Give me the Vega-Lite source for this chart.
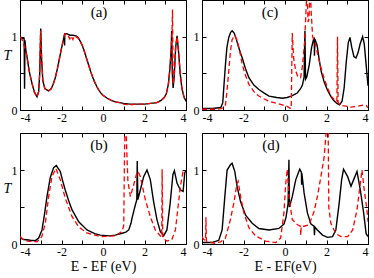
{
"$schema":"https://vega.github.io/schema/vega-lite/v6.json",
"padding":{"left":2,"top":-1,"right":0,"bottom":2},
"config":{"view":{"stroke":"black","strokeWidth":1},"font":"Liberation Serif",
 "axis":{"domain":false,"grid":false,"tickColor":"black","labelColor":"black","labelFont":"Liberation Serif","labelFontSize":12,"titleFont":"Liberation Serif","titleColor":"black","titleFontWeight":"normal"},
 "title":{"font":"Liberation Serif","fontSize":15,"fontWeight":"normal","color":"black"}},
"datasets":{"d":[
{"p":"a","s":"k","x":-4,"y":1.0},{"p":"a","s":"k","x":-3.9,"y":0.98},{"p":"a","s":"k","x":-3.8,"y":0.97},{"p":"a","s":"k","x":-3.78,"y":0.29},{"p":"a","s":"k","x":-3.76,"y":0.95},{"p":"a","s":"k","x":-3.72,"y":0.82},{"p":"a","s":"k","x":-3.66,"y":0.72},{"p":"a","s":"k","x":-3.55,"y":0.52},{"p":"a","s":"k","x":-3.42,"y":0.36},{"p":"a","s":"k","x":-3.3,"y":0.24},{"p":"a","s":"k","x":-3.18,"y":0.18},{"p":"a","s":"k","x":-3.1,"y":0.25},{"p":"a","s":"k","x":-3.05,"y":0.5},{"p":"a","s":"k","x":-3.0,"y":1.11},{"p":"a","s":"k","x":-2.96,"y":0.7},{"p":"a","s":"k","x":-2.9,"y":0.4},{"p":"a","s":"k","x":-2.8,"y":0.29},{"p":"a","s":"k","x":-2.62,"y":0.26},{"p":"a","s":"k","x":-2.5,"y":0.29},{"p":"a","s":"k","x":-2.4,"y":0.35},{"p":"a","s":"k","x":-2.3,"y":0.44},{"p":"a","s":"k","x":-2.2,"y":0.56},{"p":"a","s":"k","x":-2.1,"y":0.7},{"p":"a","s":"k","x":-2.0,"y":0.84},{"p":"a","s":"k","x":-1.9,"y":0.97},{"p":"a","s":"k","x":-1.86,"y":1.03},{"p":"a","s":"k","x":-1.85,"y":0.88},{"p":"a","s":"k","x":-1.84,"y":1.04},{"p":"a","s":"k","x":-1.75,"y":1.04},{"p":"a","s":"k","x":-1.6,"y":1.02},{"p":"a","s":"k","x":-1.45,"y":1.02},{"p":"a","s":"k","x":-1.3,"y":1.01},{"p":"a","s":"k","x":-1.2,"y":0.99},{"p":"a","s":"k","x":-1.1,"y":0.94},{"p":"a","s":"k","x":-1.0,"y":0.88},{"p":"a","s":"k","x":-0.9,"y":0.8},{"p":"a","s":"k","x":-0.8,"y":0.71},{"p":"a","s":"k","x":-0.7,"y":0.62},{"p":"a","s":"k","x":-0.6,"y":0.53},{"p":"a","s":"k","x":-0.5,"y":0.45},{"p":"a","s":"k","x":-0.4,"y":0.38},{"p":"a","s":"k","x":-0.3,"y":0.32},{"p":"a","s":"k","x":-0.2,"y":0.27},{"p":"a","s":"k","x":-0.1,"y":0.23},{"p":"a","s":"k","x":0.0,"y":0.2},{"p":"a","s":"k","x":0.2,"y":0.16},{"p":"a","s":"k","x":0.4,"y":0.13},{"p":"a","s":"k","x":0.6,"y":0.11},{"p":"a","s":"k","x":0.8,"y":0.1},{"p":"a","s":"k","x":1.0,"y":0.09},{"p":"a","s":"k","x":1.3,"y":0.08},{"p":"a","s":"k","x":1.6,"y":0.08},{"p":"a","s":"k","x":2.0,"y":0.08},{"p":"a","s":"k","x":2.3,"y":0.09},{"p":"a","s":"k","x":2.6,"y":0.1},{"p":"a","s":"k","x":2.8,"y":0.13},{"p":"a","s":"k","x":2.95,"y":0.17},{"p":"a","s":"k","x":3.05,"y":0.22},{"p":"a","s":"k","x":3.15,"y":0.35},{"p":"a","s":"k","x":3.22,"y":0.55},{"p":"a","s":"k","x":3.28,"y":0.8},{"p":"a","s":"k","x":3.31,"y":1.08},{"p":"a","s":"k","x":3.34,"y":0.5},{"p":"a","s":"k","x":3.38,"y":0.3},{"p":"a","s":"k","x":3.43,"y":0.45},{"p":"a","s":"k","x":3.5,"y":0.85},{"p":"a","s":"k","x":3.57,"y":1.01},{"p":"a","s":"k","x":3.64,"y":0.8},{"p":"a","s":"k","x":3.72,"y":0.5},{"p":"a","s":"k","x":3.8,"y":0.3},{"p":"a","s":"k","x":3.9,"y":0.18},{"p":"a","s":"k","x":4.0,"y":0.12},
{"p":"a","s":"r","x":-4,"y":1.0},{"p":"a","s":"r","x":-3.9,"y":0.96},{"p":"a","s":"r","x":-3.8,"y":0.88},{"p":"a","s":"r","x":-3.66,"y":0.72},{"p":"a","s":"r","x":-3.55,"y":0.52},{"p":"a","s":"r","x":-3.42,"y":0.36},{"p":"a","s":"r","x":-3.3,"y":0.24},{"p":"a","s":"r","x":-3.18,"y":0.18},{"p":"a","s":"r","x":-3.1,"y":0.25},{"p":"a","s":"r","x":-3.05,"y":0.5},{"p":"a","s":"r","x":-3.01,"y":1.08},{"p":"a","s":"r","x":-2.96,"y":0.72},{"p":"a","s":"r","x":-2.9,"y":0.4},{"p":"a","s":"r","x":-2.8,"y":0.29},{"p":"a","s":"r","x":-2.62,"y":0.26},{"p":"a","s":"r","x":-2.5,"y":0.29},{"p":"a","s":"r","x":-2.4,"y":0.35},{"p":"a","s":"r","x":-2.3,"y":0.44},{"p":"a","s":"r","x":-2.2,"y":0.56},{"p":"a","s":"r","x":-2.1,"y":0.7},{"p":"a","s":"r","x":-2.0,"y":0.84},{"p":"a","s":"r","x":-1.9,"y":0.97},{"p":"a","s":"r","x":-1.83,"y":1.04},{"p":"a","s":"r","x":-1.7,"y":1.02},{"p":"a","s":"r","x":-1.6,"y":0.97},{"p":"a","s":"r","x":-1.55,"y":1.01},{"p":"a","s":"r","x":-1.45,"y":0.96},{"p":"a","s":"r","x":-1.4,"y":1.01},{"p":"a","s":"r","x":-1.3,"y":1.0},{"p":"a","s":"r","x":-1.2,"y":0.98},{"p":"a","s":"r","x":-1.1,"y":0.94},{"p":"a","s":"r","x":-1.0,"y":0.88},{"p":"a","s":"r","x":-0.9,"y":0.8},{"p":"a","s":"r","x":-0.8,"y":0.71},{"p":"a","s":"r","x":-0.7,"y":0.62},{"p":"a","s":"r","x":-0.6,"y":0.53},{"p":"a","s":"r","x":-0.5,"y":0.45},{"p":"a","s":"r","x":-0.4,"y":0.38},{"p":"a","s":"r","x":-0.3,"y":0.32},{"p":"a","s":"r","x":-0.2,"y":0.27},{"p":"a","s":"r","x":-0.1,"y":0.23},{"p":"a","s":"r","x":0.0,"y":0.2},{"p":"a","s":"r","x":0.2,"y":0.16},{"p":"a","s":"r","x":0.4,"y":0.13},{"p":"a","s":"r","x":0.6,"y":0.11},{"p":"a","s":"r","x":0.8,"y":0.1},{"p":"a","s":"r","x":1.0,"y":0.08},{"p":"a","s":"r","x":1.3,"y":0.07},{"p":"a","s":"r","x":1.6,"y":0.08},{"p":"a","s":"r","x":2.0,"y":0.08},{"p":"a","s":"r","x":2.3,"y":0.09},{"p":"a","s":"r","x":2.6,"y":0.1},{"p":"a","s":"r","x":2.8,"y":0.13},{"p":"a","s":"r","x":2.95,"y":0.17},{"p":"a","s":"r","x":3.05,"y":0.22},{"p":"a","s":"r","x":3.15,"y":0.35},{"p":"a","s":"r","x":3.22,"y":0.55},{"p":"a","s":"r","x":3.28,"y":0.8},{"p":"a","s":"r","x":3.32,"y":1.0},{"p":"a","s":"r","x":3.35,"y":1.37},{"p":"a","s":"r","x":3.38,"y":0.35},{"p":"a","s":"r","x":3.43,"y":0.45},{"p":"a","s":"r","x":3.5,"y":0.85},{"p":"a","s":"r","x":3.57,"y":1.0},{"p":"a","s":"r","x":3.64,"y":0.8},{"p":"a","s":"r","x":3.72,"y":0.5},{"p":"a","s":"r","x":3.8,"y":0.3},{"p":"a","s":"r","x":3.9,"y":0.18},{"p":"a","s":"r","x":4.0,"y":0.12},
{"p":"c","s":"k","x":-4,"y":0.02},{"p":"c","s":"k","x":-3.5,"y":0.02},{"p":"c","s":"k","x":-3.2,"y":0.03},{"p":"c","s":"k","x":-3.08,"y":0.04},{"p":"c","s":"k","x":-3.0,"y":0.1},{"p":"c","s":"k","x":-2.95,"y":0.3},{"p":"c","s":"k","x":-2.87,"y":0.62},{"p":"c","s":"k","x":-2.8,"y":0.85},{"p":"c","s":"k","x":-2.71,"y":0.99},{"p":"c","s":"k","x":-2.62,"y":1.06},{"p":"c","s":"k","x":-2.55,"y":1.08},{"p":"c","s":"k","x":-2.45,"y":1.05},{"p":"c","s":"k","x":-2.35,"y":0.97},{"p":"c","s":"k","x":-2.25,"y":0.87},{"p":"c","s":"k","x":-2.15,"y":0.78},{"p":"c","s":"k","x":-2.06,"y":0.71},{"p":"c","s":"k","x":-1.9,"y":0.56},{"p":"c","s":"k","x":-1.74,"y":0.44},{"p":"c","s":"k","x":-1.5,"y":0.34},{"p":"c","s":"k","x":-1.26,"y":0.28},{"p":"c","s":"k","x":-1.0,"y":0.23},{"p":"c","s":"k","x":-0.77,"y":0.19},{"p":"c","s":"k","x":-0.4,"y":0.17},{"p":"c","s":"k","x":-0.13,"y":0.16},{"p":"c","s":"k","x":0.1,"y":0.17},{"p":"c","s":"k","x":0.3,"y":0.19},{"p":"c","s":"k","x":0.58,"y":0.23},{"p":"c","s":"k","x":0.75,"y":0.29},{"p":"c","s":"k","x":0.84,"y":0.34},{"p":"c","s":"k","x":0.92,"y":0.45},{"p":"c","s":"k","x":0.96,"y":1.08},{"p":"c","s":"k","x":0.99,"y":0.42},{"p":"c","s":"k","x":1.05,"y":0.45},{"p":"c","s":"k","x":1.17,"y":0.62},{"p":"c","s":"k","x":1.28,"y":0.85},{"p":"c","s":"k","x":1.38,"y":0.97},{"p":"c","s":"k","x":1.41,"y":0.99},{"p":"c","s":"k","x":1.42,"y":0.74},{"p":"c","s":"k","x":1.44,"y":0.97},{"p":"c","s":"k","x":1.55,"y":0.88},{"p":"c","s":"k","x":1.65,"y":0.68},{"p":"c","s":"k","x":1.75,"y":0.52},{"p":"c","s":"k","x":1.9,"y":0.37},{"p":"c","s":"k","x":2.05,"y":0.27},{"p":"c","s":"k","x":2.2,"y":0.19},{"p":"c","s":"k","x":2.35,"y":0.13},{"p":"c","s":"k","x":2.5,"y":0.09},{"p":"c","s":"k","x":2.63,"y":0.07},{"p":"c","s":"k","x":2.75,"y":0.12},{"p":"c","s":"k","x":2.85,"y":0.3},{"p":"c","s":"k","x":2.95,"y":0.65},{"p":"c","s":"k","x":3.05,"y":0.92},{"p":"c","s":"k","x":3.13,"y":0.99},{"p":"c","s":"k","x":3.22,"y":0.85},{"p":"c","s":"k","x":3.32,"y":0.73},{"p":"c","s":"k","x":3.42,"y":0.71},{"p":"c","s":"k","x":3.52,"y":0.78},{"p":"c","s":"k","x":3.62,"y":0.9},{"p":"c","s":"k","x":3.74,"y":1.0},{"p":"c","s":"k","x":3.82,"y":0.9},{"p":"c","s":"k","x":3.9,"y":0.65},{"p":"c","s":"k","x":4.0,"y":0.33},
{"p":"c","s":"r","x":-4,"y":0.01},{"p":"c","s":"r","x":-3.3,"y":0.01},{"p":"c","s":"r","x":-3.1,"y":0.02},{"p":"c","s":"r","x":-3.0,"y":0.03},{"p":"c","s":"r","x":-2.87,"y":0.07},{"p":"c","s":"r","x":-2.8,"y":0.25},{"p":"c","s":"r","x":-2.71,"y":0.53},{"p":"c","s":"r","x":-2.63,"y":0.8},{"p":"c","s":"r","x":-2.55,"y":0.96},{"p":"c","s":"r","x":-2.42,"y":1.02},{"p":"c","s":"r","x":-2.32,"y":0.96},{"p":"c","s":"r","x":-2.2,"y":0.83},{"p":"c","s":"r","x":-2.06,"y":0.62},{"p":"c","s":"r","x":-1.9,"y":0.47},{"p":"c","s":"r","x":-1.74,"y":0.35},{"p":"c","s":"r","x":-1.5,"y":0.25},{"p":"c","s":"r","x":-1.26,"y":0.19},{"p":"c","s":"r","x":-1.0,"y":0.15},{"p":"c","s":"r","x":-0.77,"y":0.12},{"p":"c","s":"r","x":-0.4,"y":0.09},{"p":"c","s":"r","x":-0.13,"y":0.07},{"p":"c","s":"r","x":0.1,"y":0.05},{"p":"c","s":"r","x":0.22,"y":0.03},{"p":"c","s":"r","x":0.3,"y":0.02},{"p":"c","s":"r","x":0.35,"y":1.05},{"p":"c","s":"r","x":0.42,"y":0.7},{"p":"c","s":"r","x":0.52,"y":0.53},{"p":"c","s":"r","x":0.62,"y":0.45},{"p":"c","s":"r","x":0.75,"y":0.44},{"p":"c","s":"r","x":0.84,"y":0.6},{"p":"c","s":"r","x":0.95,"y":0.95},{"p":"c","s":"r","x":1.02,"y":1.4},{"p":"c","s":"r","x":1.06,"y":1.7},{"p":"c","s":"r","x":1.11,"y":1.2},{"p":"c","s":"r","x":1.16,"y":1.25},{"p":"c","s":"r","x":1.21,"y":1.7},{"p":"c","s":"r","x":1.27,"y":1.3},{"p":"c","s":"r","x":1.33,"y":1.0},{"p":"c","s":"r","x":1.45,"y":0.92},{"p":"c","s":"r","x":1.6,"y":0.73},{"p":"c","s":"r","x":1.73,"y":0.58},{"p":"c","s":"r","x":1.9,"y":0.42},{"p":"c","s":"r","x":2.05,"y":0.3},{"p":"c","s":"r","x":2.2,"y":0.2},{"p":"c","s":"r","x":2.37,"y":0.14},{"p":"c","s":"r","x":2.5,"y":0.12},{"p":"c","s":"r","x":2.53,"y":1.0},{"p":"c","s":"r","x":2.56,"y":0.1},{"p":"c","s":"r","x":2.65,"y":0.07},{"p":"c","s":"r","x":2.77,"y":0.06},{"p":"c","s":"r","x":3.0,"y":0.05},{"p":"c","s":"r","x":3.17,"y":0.04},{"p":"c","s":"r","x":3.5,"y":0.05},{"p":"c","s":"r","x":3.82,"y":0.07},{"p":"c","s":"r","x":3.92,"y":0.06},{"p":"c","s":"r","x":4.0,"y":0.03},
{"p":"b","s":"k","x":-4,"y":0.08},{"p":"b","s":"k","x":-3.8,"y":0.06},{"p":"b","s":"k","x":-3.5,"y":0.05},{"p":"b","s":"k","x":-3.26,"y":0.045},{"p":"b","s":"k","x":-3.1,"y":0.08},{"p":"b","s":"k","x":-2.94,"y":0.19},{"p":"b","s":"k","x":-2.82,"y":0.4},{"p":"b","s":"k","x":-2.7,"y":0.64},{"p":"b","s":"k","x":-2.54,"y":0.9},{"p":"b","s":"k","x":-2.38,"y":1.03},{"p":"b","s":"k","x":-2.25,"y":1.06},{"p":"b","s":"k","x":-2.06,"y":0.98},{"p":"b","s":"k","x":-1.95,"y":0.86},{"p":"b","s":"k","x":-1.82,"y":0.73},{"p":"b","s":"k","x":-1.65,"y":0.58},{"p":"b","s":"k","x":-1.49,"y":0.46},{"p":"b","s":"k","x":-1.17,"y":0.3},{"p":"b","s":"k","x":-0.77,"y":0.19},{"p":"b","s":"k","x":-0.4,"y":0.14},{"p":"b","s":"k","x":-0.13,"y":0.12},{"p":"b","s":"k","x":0.3,"y":0.11},{"p":"b","s":"k","x":0.59,"y":0.12},{"p":"b","s":"k","x":0.92,"y":0.145},{"p":"b","s":"k","x":1.1,"y":0.16},{"p":"b","s":"k","x":1.24,"y":0.19},{"p":"b","s":"k","x":1.35,"y":0.28},{"p":"b","s":"k","x":1.4,"y":0.35},{"p":"b","s":"k","x":1.48,"y":0.44},{"p":"b","s":"k","x":1.56,"y":0.53},{"p":"b","s":"k","x":1.63,"y":0.6},{"p":"b","s":"k","x":1.65,"y":1.12},{"p":"b","s":"k","x":1.68,"y":0.6},{"p":"b","s":"k","x":1.8,"y":0.73},{"p":"b","s":"k","x":1.96,"y":0.91},{"p":"b","s":"k","x":2.12,"y":1.0},{"p":"b","s":"k","x":2.28,"y":0.87},{"p":"b","s":"k","x":2.44,"y":0.57},{"p":"b","s":"k","x":2.6,"y":0.33},{"p":"b","s":"k","x":2.76,"y":0.17},{"p":"b","s":"k","x":2.92,"y":0.11},{"p":"b","s":"k","x":3.08,"y":0.19},{"p":"b","s":"k","x":3.24,"y":0.56},{"p":"b","s":"k","x":3.37,"y":0.94},{"p":"b","s":"k","x":3.44,"y":0.99},{"p":"b","s":"k","x":3.57,"y":0.82},{"p":"b","s":"k","x":3.73,"y":0.73},{"p":"b","s":"k","x":3.86,"y":0.71},{"p":"b","s":"k","x":3.94,"y":0.96},{"p":"b","s":"k","x":4.0,"y":1.0},
{"p":"b","s":"r","x":-4,"y":0.1},{"p":"b","s":"r","x":-3.8,"y":0.05},{"p":"b","s":"r","x":-3.66,"y":0.04},{"p":"b","s":"r","x":-3.18,"y":0.03},{"p":"b","s":"r","x":-2.95,"y":0.1},{"p":"b","s":"r","x":-2.78,"y":0.28},{"p":"b","s":"r","x":-2.62,"y":0.64},{"p":"b","s":"r","x":-2.46,"y":0.91},{"p":"b","s":"r","x":-2.27,"y":1.02},{"p":"b","s":"r","x":-2.06,"y":0.87},{"p":"b","s":"r","x":-1.82,"y":0.62},{"p":"b","s":"r","x":-1.49,"y":0.37},{"p":"b","s":"r","x":-1.17,"y":0.23},{"p":"b","s":"r","x":-0.77,"y":0.15},{"p":"b","s":"r","x":-0.13,"y":0.1},{"p":"b","s":"r","x":0.59,"y":0.11},{"p":"b","s":"r","x":0.92,"y":0.17},{"p":"b","s":"r","x":1.0,"y":0.25},{"p":"b","s":"r","x":1.04,"y":1.3},{"p":"b","s":"r","x":1.09,"y":1.8},{"p":"b","s":"r","x":1.14,"y":1.3},{"p":"b","s":"r","x":1.2,"y":0.85},{"p":"b","s":"r","x":1.32,"y":0.64},{"p":"b","s":"r","x":1.48,"y":0.8},{"p":"b","s":"r","x":1.62,"y":0.95},{"p":"b","s":"r","x":1.69,"y":0.98},{"p":"b","s":"r","x":1.8,"y":0.91},{"p":"b","s":"r","x":2.04,"y":0.6},{"p":"b","s":"r","x":2.28,"y":0.37},{"p":"b","s":"r","x":2.52,"y":0.19},{"p":"b","s":"r","x":2.76,"y":0.11},{"p":"b","s":"r","x":2.83,"y":0.1},{"p":"b","s":"r","x":2.85,"y":1.01},{"p":"b","s":"r","x":2.88,"y":0.08},{"p":"b","s":"r","x":3.08,"y":0.04},{"p":"b","s":"r","x":3.32,"y":0.06},{"p":"b","s":"r","x":3.49,"y":0.19},{"p":"b","s":"r","x":3.62,"y":0.51},{"p":"b","s":"r","x":3.73,"y":0.78},{"p":"b","s":"r","x":3.86,"y":0.98},{"p":"b","s":"r","x":4.0,"y":0.97},
{"p":"d","s":"k","x":-4,"y":0.02},{"p":"d","s":"k","x":-3.5,"y":0.02},{"p":"d","s":"k","x":-3.19,"y":0.05},{"p":"d","s":"k","x":-3.03,"y":0.19},{"p":"d","s":"k","x":-2.9,"y":0.64},{"p":"d","s":"k","x":-2.79,"y":1.0},{"p":"d","s":"k","x":-2.63,"y":1.07},{"p":"d","s":"k","x":-2.55,"y":1.09},{"p":"d","s":"k","x":-2.42,"y":0.98},{"p":"d","s":"k","x":-2.31,"y":0.78},{"p":"d","s":"k","x":-2.14,"y":0.57},{"p":"d","s":"k","x":-1.9,"y":0.39},{"p":"d","s":"k","x":-1.58,"y":0.28},{"p":"d","s":"k","x":-1.26,"y":0.21},{"p":"d","s":"k","x":-0.77,"y":0.19},{"p":"d","s":"k","x":-0.29,"y":0.21},{"p":"d","s":"k","x":-0.05,"y":0.27},{"p":"d","s":"k","x":0.05,"y":0.36},{"p":"d","s":"k","x":0.15,"y":0.55},{"p":"d","s":"k","x":0.19,"y":1.14},{"p":"d","s":"k","x":0.21,"y":0.5},{"p":"d","s":"k","x":0.35,"y":0.64},{"p":"d","s":"k","x":0.52,"y":0.87},{"p":"d","s":"k","x":0.71,"y":1.01},{"p":"d","s":"k","x":0.79,"y":0.97},{"p":"d","s":"k","x":0.8,"y":0.8},{"p":"d","s":"k","x":0.81,"y":0.96},{"p":"d","s":"k","x":0.92,"y":0.69},{"p":"d","s":"k","x":1.08,"y":0.42},{"p":"d","s":"k","x":1.25,"y":0.27},{"p":"d","s":"k","x":1.4,"y":0.24},{"p":"d","s":"k","x":1.42,"y":0.12},{"p":"d","s":"k","x":1.44,"y":0.23},{"p":"d","s":"k","x":1.56,"y":0.19},{"p":"d","s":"k","x":1.81,"y":0.12},{"p":"d","s":"k","x":2.05,"y":0.09},{"p":"d","s":"k","x":2.29,"y":0.1},{"p":"d","s":"k","x":2.45,"y":0.19},{"p":"d","s":"k","x":2.61,"y":0.55},{"p":"d","s":"k","x":2.73,"y":0.87},{"p":"d","s":"k","x":2.82,"y":1.01},{"p":"d","s":"k","x":3.02,"y":0.91},{"p":"d","s":"k","x":3.18,"y":0.78},{"p":"d","s":"k","x":3.31,"y":0.87},{"p":"d","s":"k","x":3.47,"y":0.98},{"p":"d","s":"k","x":3.63,"y":0.73},{"p":"d","s":"k","x":3.79,"y":0.42},{"p":"d","s":"k","x":3.91,"y":0.14},{"p":"d","s":"k","x":4.0,"y":0.1},
{"p":"d","s":"r","x":-4,"y":0.1},{"p":"d","s":"r","x":-3.92,"y":0.06},{"p":"d","s":"r","x":-3.83,"y":0.05},{"p":"d","s":"r","x":-3.81,"y":0.36},{"p":"d","s":"r","x":-3.79,"y":0.04},{"p":"d","s":"r","x":-3.4,"y":0.01},{"p":"d","s":"r","x":-3.1,"y":0.03},{"p":"d","s":"r","x":-2.87,"y":0.08},{"p":"d","s":"r","x":-2.63,"y":0.33},{"p":"d","s":"r","x":-2.47,"y":0.55},{"p":"d","s":"r","x":-2.31,"y":0.82},{"p":"d","s":"r","x":-2.26,"y":0.85},{"p":"d","s":"r","x":-2.14,"y":0.64},{"p":"d","s":"r","x":-1.98,"y":0.42},{"p":"d","s":"r","x":-1.74,"y":0.22},{"p":"d","s":"r","x":-1.42,"y":0.11},{"p":"d","s":"r","x":-0.94,"y":0.04},{"p":"d","s":"r","x":-0.45,"y":0.02},{"p":"d","s":"r","x":-0.21,"y":0.08},{"p":"d","s":"r","x":-0.05,"y":0.42},{"p":"d","s":"r","x":0.03,"y":0.8},{"p":"d","s":"r","x":0.11,"y":1.01},{"p":"d","s":"r","x":0.19,"y":0.64},{"p":"d","s":"r","x":0.35,"y":0.33},{"p":"d","s":"r","x":0.6,"y":0.26},{"p":"d","s":"r","x":0.74,"y":0.24},{"p":"d","s":"r","x":0.76,"y":0.12},{"p":"d","s":"r","x":0.78,"y":0.24},{"p":"d","s":"r","x":0.92,"y":0.24},{"p":"d","s":"r","x":1.16,"y":0.26},{"p":"d","s":"r","x":1.4,"y":0.44},{"p":"d","s":"r","x":1.56,"y":0.64},{"p":"d","s":"r","x":1.73,"y":0.91},{"p":"d","s":"r","x":1.89,"y":1.18},{"p":"d","s":"r","x":1.98,"y":1.5},{"p":"d","s":"r","x":2.03,"y":1.8},{"p":"d","s":"r","x":2.08,"y":1.6},{"p":"d","s":"r","x":2.11,"y":0.5},{"p":"d","s":"r","x":2.21,"y":0.28},{"p":"d","s":"r","x":2.45,"y":0.14},{"p":"d","s":"r","x":2.7,"y":0.1},{"p":"d","s":"r","x":3.02,"y":0.1},{"p":"d","s":"r","x":3.26,"y":0.19},{"p":"d","s":"r","x":3.47,"y":0.46},{"p":"d","s":"r","x":3.63,"y":0.82},{"p":"d","s":"r","x":3.71,"y":1.0},{"p":"d","s":"r","x":3.82,"y":0.73},{"p":"d","s":"r","x":3.95,"y":0.46},{"p":"d","s":"r","x":4.0,"y":0.3}
]},
"data":{"name":"d"},
"columns":2,"spacing":{"row":23,"column":16},"bounds":"flush",
"concat":[
{"width":166,"height":110,"title":{"text":"(a)","offset":-20,"dx":-4},
 "transform":[{"filter":"datum.p === 'a'"}],
 "layer":[
  {"transform":[{"filter":"datum.s === 'k'"}],"mark":{"type":"line","color":"black","strokeWidth":1.4,"clip":true},
   "encoding":{"x":{"field":"x","type":"quantitative","scale":{"domain":[-4,4],"nice":false},"axis":{"orient":"top","values":[-4,-3,-2,-1,0,1,2,3,4],"labels":false,"title":null,"tickSize":-4}},
    "y":{"field":"y","type":"quantitative","scale":{"domain":[0,1.5],"nice":false},"axis":{"orient":"right","values":[0,0.5,1,1.5],"labels":false,"title":null,"tickSize":-4}}}},
  {"transform":[{"filter":"datum.s === 'r'"}],"mark":{"type":"line","color":"#ff0000","strokeWidth":1.3,"strokeDash":[5,3],"clip":true},
   "encoding":{"x":{"field":"x","type":"quantitative","axis":{"orient":"bottom","values":[-4,-3,-2,-1,0,1,2,3,4],"labelExpr":"datum.value % 2 === 0 ? '' + datum.value : ''","labelFont":"Liberation Serif","tickSize":-4,"labelPadding":6,"title":null}},
    "y":{"field":"y","type":"quantitative","axis":{"orient":"left","values":[0,0.5,1,1.5],"labelExpr":"datum.value === 0 || datum.value === 1 ? '' + datum.value : ''","labelFont":"Liberation Serif","tickSize":-4,"labelPadding":7,"title":"T","titleAngle":0,"titleFontStyle":"italic","titleFontSize":14,"titleBaseline":"middle","titlePadding":4}}}}
 ],
 "resolve":{"axis":{"x":"independent","y":"independent"}}},
{"width":166,"height":110,"title":{"text":"(c)","offset":-20,"dx":-15},
 "transform":[{"filter":"datum.p === 'c'"}],
 "layer":[
  {"transform":[{"filter":"datum.s === 'k'"}],"mark":{"type":"line","color":"black","strokeWidth":1.4,"clip":true},
   "encoding":{"x":{"field":"x","type":"quantitative","scale":{"domain":[-4,4],"nice":false},"axis":{"orient":"top","values":[-4,-3,-2,-1,0,1,2,3,4],"labels":false,"title":null,"tickSize":-4}},
    "y":{"field":"y","type":"quantitative","scale":{"domain":[0,1.5],"nice":false},"axis":{"orient":"right","values":[0,0.5,1,1.5],"labels":false,"title":null,"tickSize":-4}}}},
  {"transform":[{"filter":"datum.s === 'r'"}],"mark":{"type":"line","color":"#ff0000","strokeWidth":1.3,"strokeDash":[5,3],"clip":true},
   "encoding":{"x":{"field":"x","type":"quantitative","axis":{"orient":"bottom","values":[-4,-3,-2,-1,0,1,2,3,4],"labelExpr":"datum.value % 2 === 0 ? '' + datum.value : ''","labelFont":"Liberation Serif","tickSize":-4,"labelPadding":6,"title":null}},
    "y":{"field":"y","type":"quantitative","axis":{"orient":"left","values":[0,0.5,1,1.5],"labelExpr":"datum.value === 0 || datum.value === 1 ? '' + datum.value : ''","labelFont":"Liberation Serif","tickSize":-4,"labelPadding":7,"title":null}}}}
 ],
 "resolve":{"axis":{"x":"independent","y":"independent"}}},
{"width":166,"height":111,"title":{"text":"(b)","offset":-20,"dx":-4},
 "transform":[{"filter":"datum.p === 'b'"}],
 "layer":[
  {"transform":[{"filter":"datum.s === 'k'"}],"mark":{"type":"line","color":"black","strokeWidth":1.4,"clip":true},
   "encoding":{"x":{"field":"x","type":"quantitative","scale":{"domain":[-4,4],"nice":false},"axis":{"orient":"top","values":[-4,-3,-2,-1,0,1,2,3,4],"labels":false,"title":null,"tickSize":-4}},
    "y":{"field":"y","type":"quantitative","scale":{"domain":[0,1.5],"nice":false},"axis":{"orient":"right","values":[0,0.5,1,1.5],"labels":false,"title":null,"tickSize":-4}}}},
  {"transform":[{"filter":"datum.s === 'r'"}],"mark":{"type":"line","color":"#ff0000","strokeWidth":1.3,"strokeDash":[5,3],"clip":true},
   "encoding":{"x":{"field":"x","type":"quantitative","axis":{"orient":"bottom","values":[-4,-3,-2,-1,0,1,2,3,4],"labelExpr":"datum.value % 2 === 0 ? '' + datum.value : ''","labelFont":"Liberation Serif","tickSize":-4,"labelPadding":6,"title":"E - EF (eV)","titleFontSize":14,"titlePadding":2}},
    "y":{"field":"y","type":"quantitative","axis":{"orient":"left","values":[0,0.5,1,1.5],"labelExpr":"datum.value === 0 || datum.value === 1 ? '' + datum.value : ''","labelFont":"Liberation Serif","tickSize":-4,"labelPadding":7,"title":"T","titleAngle":0,"titleFontStyle":"italic","titleFontSize":14,"titleBaseline":"middle","titlePadding":4}}}}
 ],
 "resolve":{"axis":{"x":"independent","y":"independent"}}},
{"width":166,"height":111,"title":{"text":"(d)","offset":-20,"dx":-14},
 "transform":[{"filter":"datum.p === 'd'"}],
 "layer":[
  {"transform":[{"filter":"datum.s === 'k'"}],"mark":{"type":"line","color":"black","strokeWidth":1.4,"clip":true},
   "encoding":{"x":{"field":"x","type":"quantitative","scale":{"domain":[-4,4],"nice":false},"axis":{"orient":"top","values":[-4,-3,-2,-1,0,1,2,3,4],"labels":false,"title":null,"tickSize":-4}},
    "y":{"field":"y","type":"quantitative","scale":{"domain":[0,1.5],"nice":false},"axis":{"orient":"right","values":[0,0.5,1,1.5],"labels":false,"title":null,"tickSize":-4}}}},
  {"transform":[{"filter":"datum.s === 'r'"}],"mark":{"type":"line","color":"#ff0000","strokeWidth":1.3,"strokeDash":[5,3],"clip":true},
   "encoding":{"x":{"field":"x","type":"quantitative","axis":{"orient":"bottom","values":[-4,-3,-2,-1,0,1,2,3,4],"labelExpr":"datum.value % 2 === 0 ? '' + datum.value : ''","labelFont":"Liberation Serif","tickSize":-4,"labelPadding":6,"title":"E - EF(eV)","titleFontSize":14,"titlePadding":2}},
    "y":{"field":"y","type":"quantitative","axis":{"orient":"left","values":[0,0.5,1,1.5],"labelExpr":"datum.value === 0 || datum.value === 1 ? '' + datum.value : ''","labelFont":"Liberation Serif","tickSize":-4,"labelPadding":7,"title":null}}}}
 ],
 "resolve":{"axis":{"x":"independent","y":"independent"}}}
]
}
